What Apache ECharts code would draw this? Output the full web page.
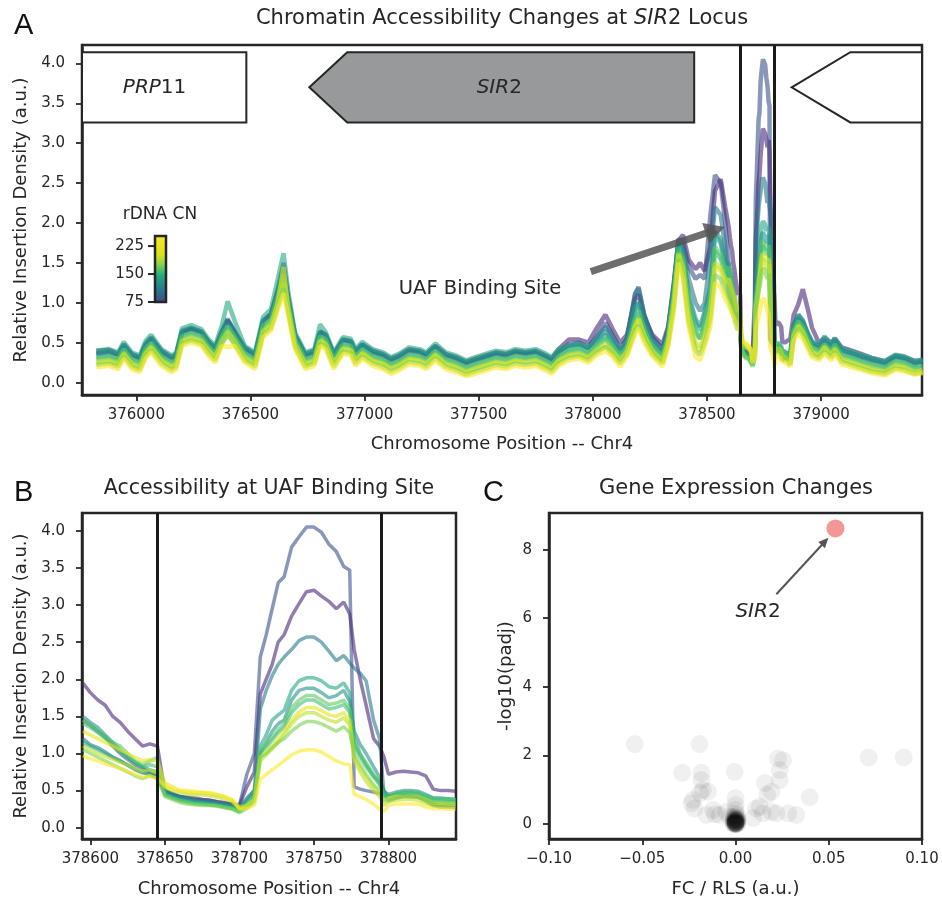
<!DOCTYPE html>
<html>
<head>
<meta charset="utf-8">
<title>SIR2 locus</title>
<script src="https://cdn.jsdelivr.net/npm/echarts@6/dist/echarts.min.js"></script>
<style>
html, body { margin: 0; padding: 0; background: #fff; }
#main { width: 942px; height: 901px; }
</style>
</head>
<body>
<div id="main"></div>
<script>
// positions on Chr4 (bp)
var posLeft = [375825, 375880, 375920, 375945, 375980, 376015, 376040, 376065, 376110, 376155,
    376175, 376200, 376240, 376285, 376315, 376345, 376375, 376400, 376430, 376475,
    376520, 376555, 376590, 376620, 376645, 376665, 376695, 376740, 376780, 376805,
    376830, 376865, 376905, 376940, 376960, 376990, 377035, 377080, 377115, 377150,
    377195, 377240, 377270, 377310, 377355, 377400, 377445, 377485, 377530, 377575,
    377620, 377660, 377705, 377750, 377795, 377820, 377850, 377895, 377940, 377980,
    378010, 378055, 378085, 378120, 378150, 378185, 378200, 378225, 378260, 378305,
    378330, 378355, 378375, 378395, 378420, 378450, 378470, 378490, 378515, 378535,
    378560, 378580];
var posSite = [378595, 378600, 378605, 378610, 378615, 378620, 378625, 378630, 378635, 378640,
    378645, 378650, 378655, 378660, 378665, 378670, 378675, 378680, 378685, 378690,
    378695, 378700, 378705, 378710, 378714, 378718, 378722, 378726, 378730, 378735,
    378740, 378745, 378750, 378755, 378760, 378765, 378770, 378774, 378777, 378781,
    378785, 378790, 378794, 378797, 378800, 378805, 378810, 378815, 378820, 378825,
    378830, 378835, 378840, 378845];
var posRight = [378865, 378880, 378900, 378920, 378940, 378960, 378990, 379015, 379045, 379060,
    379090, 379135, 379175, 379220, 379280, 379325, 379365, 379410, 379445];

var uafBounds = [378645, 378795];

// relative insertion density, one row per strain (low -> high rDNA CN roughly)
var leftDens = [
    [0.36,0.38,0.35,0.46,0.34,0.30,0.47,0.55,0.38,0.30,0.33,0.63,0.67,0.63,0.51,0.42,0.63,0.78,0.63,0.42,0.34,0.77,0.86,1.18,1.50,1.08,0.59,0.34,0.37,0.62,0.59,0.34,0.53,0.51,0.38,0.47,0.38,0.34,0.28,0.32,0.40,0.38,0.34,0.45,0.34,0.30,0.24,0.28,0.32,0.36,0.34,0.38,0.36,0.38,0.32,0.28,0.38,0.48,0.50,0.44,
     0.55,0.75,0.60,0.42,0.55,1.10,1.20,0.85,0.58,0.42,0.68,1.25,1.80,1.75,1.45,1.30,1.35,1.30,2.10,2.60,2.50,2.00],
    [0.40,0.41,0.36,0.48,0.36,0.32,0.48,0.56,0.40,0.32,0.36,0.64,0.68,0.64,0.52,0.44,0.64,0.78,0.64,0.44,0.36,0.76,0.86,1.14,1.35,1.06,0.60,0.36,0.40,0.64,0.60,0.36,0.54,0.52,0.40,0.48,0.40,0.36,0.30,0.34,0.42,0.40,0.36,0.46,0.36,0.32,0.26,0.30,0.34,0.38,0.36,0.40,0.38,0.40,0.34,0.30,0.42,0.54,0.54,0.50,
     0.65,0.85,0.68,0.50,0.60,1.05,1.10,0.82,0.60,0.48,0.70,1.20,1.78,1.85,1.54,1.42,1.50,1.40,1.70,2.40,2.55,2.20],
    [0.37,0.40,0.35,0.48,0.35,0.31,0.49,0.57,0.39,0.31,0.35,0.65,0.69,0.64,0.52,0.43,0.65,0.80,0.65,0.43,0.35,0.78,0.86,1.15,1.45,1.07,0.60,0.35,0.39,0.64,0.60,0.35,0.54,0.52,0.39,0.48,0.39,0.35,0.29,0.33,0.41,0.39,0.35,0.46,0.35,0.31,0.25,0.29,0.33,0.37,0.35,0.39,0.37,0.39,0.33,0.29,0.39,0.46,0.48,0.43,
     0.55,0.70,0.58,0.42,0.56,1.12,1.18,0.85,0.56,0.40,0.66,1.25,1.75,1.70,1.30,1.00,0.90,1.00,1.60,2.20,2.10,1.70],
    [0.40,0.42,0.38,0.51,0.38,0.34,0.52,0.60,0.42,0.34,0.38,0.68,0.72,0.67,0.55,0.46,0.72,1.02,0.78,0.46,0.38,0.82,0.92,1.30,1.62,1.15,0.63,0.38,0.42,0.73,0.63,0.38,0.57,0.55,0.42,0.51,0.42,0.38,0.32,0.36,0.44,0.42,0.38,0.49,0.38,0.34,0.28,0.32,0.36,0.40,0.38,0.42,0.40,0.42,0.36,0.32,0.42,0.47,0.49,0.44,
     0.50,0.60,0.52,0.38,0.50,0.95,1.00,0.75,0.50,0.36,0.62,1.20,1.72,1.60,1.05,0.75,0.65,0.85,1.15,1.85,1.75,1.45],
    [0.34,0.36,0.32,0.45,0.32,0.28,0.45,0.53,0.36,0.28,0.32,0.61,0.65,0.61,0.49,0.40,0.61,0.74,0.61,0.40,0.32,0.74,0.82,1.12,1.42,1.03,0.57,0.32,0.36,0.61,0.57,0.32,0.51,0.49,0.36,0.45,0.36,0.32,0.26,0.30,0.38,0.36,0.32,0.43,0.32,0.28,0.22,0.26,0.30,0.34,0.32,0.36,0.34,0.36,0.30,0.26,0.36,0.43,0.45,0.40,
     0.50,0.65,0.52,0.37,0.50,0.90,1.00,0.74,0.50,0.36,0.62,1.18,1.80,1.62,1.10,0.80,0.70,0.90,1.20,1.90,1.80,1.50],
    [0.31,0.33,0.29,0.42,0.29,0.25,0.42,0.50,0.33,0.25,0.29,0.58,0.62,0.58,0.46,0.37,0.58,0.71,0.58,0.37,0.29,0.71,0.79,1.08,1.35,1.00,0.54,0.29,0.33,0.58,0.54,0.29,0.48,0.46,0.33,0.42,0.33,0.29,0.23,0.27,0.35,0.33,0.29,0.40,0.29,0.25,0.19,0.23,0.27,0.31,0.29,0.33,0.31,0.33,0.27,0.23,0.33,0.40,0.42,0.37,
     0.45,0.55,0.46,0.33,0.45,0.80,0.90,0.66,0.45,0.33,0.58,1.10,1.65,1.55,1.00,0.65,0.55,0.75,1.05,1.70,1.60,1.40],
    [0.29,0.31,0.27,0.40,0.27,0.23,0.40,0.48,0.31,0.23,0.27,0.56,0.60,0.56,0.44,0.35,0.56,0.68,0.56,0.35,0.27,0.68,0.76,1.04,1.30,0.97,0.52,0.27,0.31,0.56,0.52,0.27,0.46,0.44,0.31,0.40,0.31,0.27,0.21,0.25,0.33,0.31,0.27,0.38,0.27,0.23,0.17,0.21,0.25,0.29,0.27,0.31,0.29,0.31,0.25,0.21,0.31,0.38,0.40,0.35,
     0.43,0.55,0.44,0.31,0.43,0.80,0.88,0.64,0.43,0.31,0.56,1.08,1.70,1.50,0.95,0.62,0.55,0.72,1.00,1.65,1.55,1.35],
    [0.24,0.26,0.22,0.35,0.22,0.18,0.35,0.43,0.27,0.19,0.22,0.50,0.54,0.51,0.40,0.30,0.50,0.60,0.48,0.30,0.22,0.62,0.70,1.00,1.45,0.92,0.47,0.22,0.26,0.52,0.47,0.23,0.42,0.40,0.27,0.36,0.27,0.23,0.17,0.21,0.29,0.27,0.23,0.34,0.23,0.19,0.13,0.17,0.21,0.25,0.23,0.27,0.25,0.27,0.21,0.17,0.27,0.33,0.35,0.30,
     0.38,0.45,0.38,0.26,0.38,0.70,0.80,0.58,0.38,0.26,0.50,1.00,1.60,1.40,0.80,0.45,0.40,0.55,0.85,1.45,1.40,1.25],
    [0.26,0.28,0.24,0.37,0.24,0.20,0.37,0.45,0.28,0.20,0.24,0.53,0.57,0.53,0.41,0.32,0.53,0.64,0.53,0.32,0.24,0.65,0.73,1.00,1.25,0.94,0.49,0.24,0.28,0.53,0.49,0.24,0.43,0.41,0.28,0.37,0.28,0.24,0.18,0.22,0.30,0.28,0.24,0.35,0.24,0.20,0.14,0.18,0.22,0.26,0.24,0.28,0.26,0.28,0.22,0.18,0.28,0.35,0.37,0.32,
     0.40,0.50,0.40,0.28,0.40,0.72,0.80,0.60,0.40,0.28,0.52,1.02,1.62,1.45,0.85,0.50,0.45,0.60,0.90,1.50,1.45,1.30],
    [0.22,0.24,0.20,0.33,0.20,0.16,0.33,0.41,0.24,0.16,0.20,0.49,0.53,0.49,0.37,0.28,0.49,0.60,0.49,0.28,0.20,0.60,0.68,0.95,1.18,0.88,0.45,0.20,0.24,0.49,0.45,0.20,0.39,0.37,0.24,0.33,0.24,0.20,0.14,0.18,0.26,0.24,0.20,0.31,0.20,0.16,0.10,0.14,0.18,0.22,0.20,0.24,0.22,0.24,0.18,0.14,0.24,0.31,0.33,0.28,
     0.36,0.45,0.36,0.24,0.36,0.65,0.72,0.55,0.36,0.24,0.48,0.95,1.55,1.35,0.75,0.40,0.35,0.50,0.80,1.35,1.30,1.15],
    [0.19,0.21,0.17,0.30,0.17,0.13,0.30,0.38,0.21,0.13,0.17,0.46,0.50,0.46,0.34,0.25,0.46,0.45,0.46,0.25,0.17,0.57,0.65,0.92,1.12,0.85,0.42,0.17,0.21,0.46,0.42,0.17,0.36,0.34,0.21,0.30,0.21,0.17,0.11,0.15,0.23,0.21,0.17,0.28,0.17,0.13,0.08,0.11,0.15,0.19,0.17,0.21,0.19,0.21,0.15,0.11,0.21,0.28,0.30,0.25,
     0.33,0.40,0.33,0.20,0.33,0.60,0.68,0.50,0.33,0.20,0.45,0.90,1.50,1.30,0.70,0.32,0.28,0.45,0.70,1.25,1.20,1.05]
];
var siteDens = [
    [1.45,1.38,1.30,1.22,1.10,1.00,0.92,0.85,0.80,0.74,0.70, 0.50,0.46,0.42,0.40,0.38,0.38,0.37,0.35,0.33,0.32,0.30, 0.72,1.00,2.30,2.60,2.95,3.30,3.38,3.78,3.92,4.05,4.05,3.98,3.82,3.72,3.52,3.47, 0.55,0.52,0.50,0.48,0.46, 0.44,0.42,0.42,0.43,0.42,0.42,0.38,0.32,0.30,0.30,0.30],
    [1.95,1.82,1.72,1.65,1.50,1.42,1.30,1.20,1.10,1.13,1.10, 0.48,0.45,0.42,0.41,0.40,0.38,0.37,0.35,0.34,0.32,0.30, 0.55,0.75,1.80,2.00,2.20,2.50,2.60,2.85,3.02,3.18,3.20,3.12,3.05,2.95,3.04,2.88, 2.40,2.00,1.65,1.20,1.10, 0.95,0.72,0.75,0.76,0.75,0.74,0.70,0.52,0.50,0.50,0.49],
    [1.20,1.12,1.08,1.02,0.95,0.90,0.84,0.78,0.74,0.72,0.68, 0.50,0.46,0.42,0.40,0.37,0.36,0.35,0.34,0.32,0.30,0.27, 0.40,0.50,1.60,1.85,2.05,2.20,2.30,2.40,2.52,2.57,2.57,2.50,2.38,2.25,2.32,2.22, 2.15,2.08,1.98,1.45,1.20, 0.45,0.38,0.40,0.42,0.42,0.41,0.36,0.30,0.28,0.28,0.27],
    [1.15,1.10,1.05,1.00,0.95,0.90,0.85,0.80,0.75,0.72,0.68, 0.45,0.42,0.38,0.36,0.35,0.34,0.33,0.32,0.30,0.28,0.25, 0.35,0.45,1.10,1.25,1.45,1.52,1.58,1.85,1.98,2.02,2.02,1.98,1.90,1.88,1.95,1.82, 1.20,1.00,0.85,0.70,0.62, 0.50,0.42,0.45,0.46,0.46,0.45,0.40,0.36,0.36,0.35,0.35],
    [1.50,1.42,1.35,1.25,1.15,1.05,0.95,0.88,0.82,0.78,0.75, 0.48,0.44,0.40,0.38,0.36,0.35,0.34,0.33,0.31,0.29,0.26, 0.38,0.50,1.00,1.15,1.30,1.40,1.45,1.72,1.85,1.88,1.88,1.82,1.75,1.78,1.85,1.70, 1.30,1.12,1.00,0.82,0.68, 0.48,0.45,0.48,0.50,0.50,0.49,0.45,0.40,0.40,0.39,0.38],
    [1.45,1.38,1.30,1.22,1.15,1.10,1.00,0.90,0.85,0.90,0.95, 0.45,0.40,0.36,0.34,0.32,0.32,0.31,0.30,0.28,0.26,0.22, 0.30,0.40,1.05,1.12,1.22,1.32,1.40,1.62,1.72,1.78,1.78,1.72,1.66,1.68,1.72,1.60, 1.15,0.98,0.88,0.72,0.60, 0.42,0.40,0.45,0.47,0.47,0.46,0.42,0.38,0.38,0.37,0.37],
    [1.40,1.35,1.28,1.20,1.12,1.02,0.95,0.88,0.82,0.85,0.82, 0.44,0.40,0.37,0.35,0.33,0.32,0.31,0.30,0.28,0.26,0.22, 0.30,0.42,1.00,1.08,1.18,1.28,1.35,1.55,1.66,1.72,1.72,1.66,1.60,1.62,1.66,1.55, 1.10,0.95,0.82,0.68,0.58, 0.45,0.42,0.46,0.48,0.48,0.47,0.43,0.40,0.39,0.39,0.38],
    [1.30,1.25,1.20,1.15,1.10,1.05,1.00,0.95,0.90,0.92,0.90, 0.60,0.55,0.50,0.48,0.47,0.47,0.46,0.44,0.42,0.38,0.28, 0.30,0.38,0.95,1.02,1.10,1.20,1.30,1.45,1.56,1.62,1.62,1.58,1.52,1.50,1.55,1.45, 0.95,0.80,0.68,0.55,0.45, 0.35,0.40,0.42,0.42,0.42,0.42,0.38,0.33,0.33,0.32,0.32],
    [1.10,1.05,1.00,0.96,0.92,0.88,0.85,0.80,0.76,0.78,0.74, 0.55,0.50,0.47,0.45,0.44,0.44,0.43,0.41,0.39,0.35,0.26, 0.28,0.36,0.90,0.98,1.06,1.15,1.25,1.40,1.50,1.55,1.55,1.50,1.45,1.42,1.48,1.38, 0.90,0.75,0.62,0.50,0.42, 0.30,0.35,0.37,0.38,0.38,0.37,0.33,0.30,0.30,0.29,0.29],
    [1.05,1.00,0.95,0.90,0.85,0.80,0.75,0.70,0.66,0.70,0.66, 0.42,0.38,0.34,0.32,0.31,0.30,0.30,0.29,0.27,0.25,0.20, 0.26,0.34,0.95,1.00,1.08,1.15,1.20,1.30,1.38,1.43,1.43,1.40,1.35,1.30,1.36,1.28, 1.00,0.85,0.72,0.58,0.50, 0.38,0.36,0.40,0.42,0.42,0.41,0.37,0.34,0.34,0.33,0.33],
    [0.97,0.93,0.90,0.86,0.83,0.80,0.76,0.72,0.68,0.70,0.66, 0.56,0.52,0.50,0.50,0.49,0.48,0.47,0.45,0.42,0.38,0.25, 0.26,0.30,0.65,0.72,0.78,0.84,0.90,0.98,1.03,1.05,1.05,1.02,0.96,0.90,0.86,0.85, 0.45,0.42,0.38,0.32,0.25, 0.22,0.30,0.32,0.32,0.32,0.32,0.28,0.26,0.26,0.25,0.25]
];
var rightDens = [
    [0.36,0.72,0.85,0.78,0.62,0.50,0.45,0.53,0.45,0.53,0.40,0.36,0.32,0.28,0.24,0.32,0.30,0.24,0.26],
    [0.55,0.85,0.98,1.17,0.94,0.69,0.50,0.56,0.50,0.55,0.44,0.40,0.36,0.31,0.27,0.34,0.32,0.27,0.28],
    [0.34,0.70,0.82,0.76,0.62,0.50,0.46,0.54,0.46,0.54,0.41,0.37,0.33,0.29,0.25,0.33,0.31,0.25,0.27],
    [0.38,0.72,0.85,0.76,0.64,0.52,0.48,0.58,0.48,0.56,0.43,0.39,0.35,0.31,0.27,0.35,0.33,0.27,0.29],
    [0.33,0.68,0.80,0.72,0.59,0.47,0.43,0.51,0.43,0.51,0.38,0.34,0.30,0.26,0.22,0.30,0.28,0.22,0.24],
    [0.30,0.65,0.77,0.69,0.56,0.44,0.40,0.48,0.40,0.48,0.35,0.31,0.27,0.23,0.19,0.27,0.25,0.19,0.21],
    [0.28,0.63,0.75,0.67,0.54,0.42,0.38,0.46,0.38,0.46,0.33,0.29,0.25,0.21,0.17,0.25,0.23,0.17,0.19],
    [0.24,0.58,0.70,0.62,0.49,0.37,0.33,0.45,0.33,0.41,0.28,0.24,0.20,0.16,0.12,0.20,0.18,0.12,0.14],
    [0.25,0.60,0.72,0.64,0.51,0.39,0.35,0.43,0.35,0.43,0.30,0.26,0.22,0.18,0.14,0.22,0.20,0.14,0.16],
    [0.22,0.56,0.68,0.60,0.47,0.35,0.31,0.39,0.31,0.39,0.26,0.22,0.18,0.14,0.11,0.18,0.16,0.11,0.13],
    [0.20,0.52,0.62,0.55,0.43,0.32,0.28,0.36,0.28,0.36,0.23,0.19,0.16,0.12,0.09,0.16,0.14,0.10,0.12]
];
var lineColors = ['#3b528b', '#482878', '#2a788e', '#22a884', '#21918c', '#5ec962',
    '#3fbc73', '#e5e419', '#bddf26', '#7ad151', '#fde725'];

// genes drawn in panel A
var geneBody = [[375762, 376482], [376924, 378444], [379128, 379442]];
var geneTip = [null, 376758, 378871];
var geneBand = [3.26, 4.14];
var geneLabelX = [376080, 377590, null];
var geneFill = ['#ffffff', '#98999b', '#ffffff'];

// panel C : fold change per RLS vs -log10(padj)
var fcVals = [-0.054, -0.0193, -0.0286, -0.0183, -0.0183, -0.0004, -0.0175, -0.0147, -0.0229, -0.0235,
    -0.022, -0.019, -0.012, -0.0085, -0.0156, -0.011, -0.005, -0.003, 0, 0,
    0, 0.0094, 0.013, 0.0157, 0.0193, 0.0193, 0.0147, 0.0237, 0.0255, 0.0228,
    0.0237, 0.0398, 0.0282, 0.0326, 0.0219, 0.0714, 0.0902, 0.017, 0.011,
    0, 0.001, -0.001, 0, 0.001, -0.001, 0, 0.001, 0, -0.001, 0, 0.001, 0, 0, 0.0005, -0.0005, 0, 0,
    0.0008, -0.0008, 0, 0, 0, 0, 0, 0.001, -0.001, 0, 0, 0, 0.0005, -0.0005, 0, 0, 0.001, -0.001];
var padjVals = [2.33, 2.33, 1.49, 1.49, 1.28, 1.52, 0.99, 0.94, 0.70, 0.60,
    0.45, 0.90, 0.41, 0.26, 0.26, 0.28, 0.35, 0.20, 0.75, 0.55,
    0.41, 0.17, 0.50, 1.19, 0.94, 0.35, 0.31, 1.57, 1.86, 1.91,
    1.28, 0.78, 0.31, 0.26, 0.31, 1.94, 1.94, 0.85, 0.45,
    0, 0.02, 0.03, 0.05, 0.08, 0.1, 0.12, 0.15, 0.18, 0.2, 0.22, 0.25, 0, 0.01, 0.04, 0.06, 0.09, 0.11,
    0.13, 0.16, 0.3, 0.02, 0.03, 0.07, 0, 0, 0, 0.01, 0.05, 0.14, 0.08, 0.1, 0.04, 0.06, 0.12, 0.02];
var sir2Point = [0.0536, 8.62];

// ticks
var ticksAx = [376000, 376500, 377000, 377500, 378000, 378500, 379000];
var ticksAy = [0, 0.5, 1, 1.5, 2, 2.5, 3, 3.5, 4];
var ticksBx = [378600, 378650, 378700, 378750, 378800];
var ticksCx = [-0.1, -0.05, 0, 0.05, 0.1];
var ticksCy = [0, 2, 4, 6, 8];
var cbTicks = [75, 150, 225];
var cbRange = [75, 252];

// annotation anchors
var uafArrow = [[377991, 1.39], [378536, 1.91]];
var sirArrow = [[0.0219, 6.70], [0.0480, 8.24]];

var ink = '#262626';
var font = 'DejaVu Sans';

function zip(xs, ys) {
    var out = [];
    for (var i = 0; i < xs.length; i++) out.push([xs[i], ys[i]]);
    return out;
}
function fmtInt(v) { return String(Math.round(v)); }
function fmt1(v) { return v.toFixed(1); }
function fmtC(v) { return v < 0 ? '\u2212' + Math.abs(v).toFixed(2) : v.toFixed(2); }
function fmtPlain(v) { return String(v); }

function makeAxis(grid, min, max, ticks, fmt, name, gap, margin, vertical) {
    return {
        type: 'value', gridIndex: grid, min: min, max: max,
        splitLine: { show: false },
        axisLine: { show: true, onZero: false, lineStyle: { color: ink, width: 2.5 } },
        axisTick: { show: true, length: 6, customValues: ticks, lineStyle: { color: ink, width: 1.8 } },
        axisLabel: { customValues: ticks, formatter: fmt, color: ink, fontSize: 15, fontFamily: font, margin: margin },
        name: name, nameLocation: 'middle', nameGap: gap, nameRotate: vertical ? 90 : 0,
        nameTextStyle: { color: ink, fontSize: 18, fontFamily: font }
    };
}

var chart = echarts.init(document.getElementById('main'), null, { renderer: 'canvas' });

var posA = posLeft.concat(posSite, posRight);
var series = [];

// gene models
series.push({
    type: 'custom', xAxisIndex: 0, yAxisIndex: 0, silent: true, z: 3,
    data: geneBody.map(function (b, i) { return [b[0], b[1], i]; }),
    renderItem: function (params, api) {
        var i = params.dataIndex;
        var x0 = api.value(0), x1 = api.value(1);
        var yl = geneBand[0], yh = geneBand[1], ym = (yl + yh) / 2;
        var pts = geneTip[i] == null ?
            [[x0, yh], [x1, yh], [x1, yl], [x0, yl]] :
            [[geneTip[i], ym], [x0, yh], [x1, yh], [x1, yl], [x0, yl]];
        pts = pts.map(function (p) { return api.coord(p); });
        var kids = [{ type: 'polygon', shape: { points: pts }, style: { fill: geneFill[i], stroke: ink, lineWidth: 2 } }];
        if (geneLabelX[i] != null) {
            var c = api.coord([geneLabelX[i], ym]);
            var nm = i === 0 ? '{i|PRP}{n|11}' : '{i|SIR}{n|2}';
            kids.push({
                type: 'text', x: c[0], y: c[1],
                style: {
                    text: nm, align: 'center', verticalAlign: 'middle',
                    rich: {
                        i: { fontSize: 20, fontStyle: 'italic', fontFamily: font, fill: ink },
                        n: { fontSize: 20, fontFamily: font, fill: ink }
                    }
                }
            });
        }
        return { type: 'group', children: kids };
    }
});

// panel A lines
for (var i = 0; i < lineColors.length; i++) {
    series.push({
        type: 'line', xAxisIndex: 0, yAxisIndex: 0, silent: true,
        symbol: 'none', showSymbol: false,
        data: zip(posA, leftDens[i].concat(siteDens[i], rightDens[i])),
        lineStyle: { color: lineColors[i], width: 4.5, opacity: 0.6 }
    });
}
series[series.length - 1].markLine = {
    silent: true, symbol: 'none', animation: false,
    label: { show: false },
    lineStyle: { color: '#1a1a1a', width: 3, type: 'solid', opacity: 1 },
    data: [
        { xAxis: uafBounds[0] }, { xAxis: uafBounds[1] },
        [{ coord: uafArrow[0], symbol: 'none', lineStyle: { color: '#555555', width: 7, opacity: 0.85, type: 'solid' } },
         { coord: uafArrow[1], symbol: 'triangle', symbolSize: [22, 20] }]
    ]
};

// panel B lines
for (var j = 0; j < lineColors.length; j++) {
    series.push({
        type: 'line', xAxisIndex: 1, yAxisIndex: 1, silent: true,
        symbol: 'none', showSymbol: false,
        data: zip(posSite, siteDens[j]),
        lineStyle: { color: lineColors[j], width: 3.5, opacity: 0.6 }
    });
}
series[series.length - 1].markLine = {
    silent: true, symbol: 'none', animation: false,
    label: { show: false },
    lineStyle: { color: '#1a1a1a', width: 3, type: 'solid', opacity: 1 },
    data: [{ xAxis: uafBounds[0] }, { xAxis: uafBounds[1] }]
};

// panel C
series.push({
    type: 'scatter', xAxisIndex: 2, yAxisIndex: 2, silent: true,
    data: zip(fcVals, padjVals), symbolSize: 18,
    itemStyle: { color: '#000000', opacity: 0.06 }
});
series.push({
    type: 'scatter', xAxisIndex: 2, yAxisIndex: 2, silent: true,
    data: [sir2Point], symbolSize: 18,
    itemStyle: { color: '#f07c7c', opacity: 0.8 },
    markLine: {
        silent: true, animation: false, label: { show: false },
        lineStyle: { color: '#555555', width: 2, type: 'solid' },
        data: [[{ coord: sirArrow[0], symbol: 'none' }, { coord: sirArrow[1], symbol: 'triangle', symbolSize: [9, 10] }]]
    }
});

// colorbar for rDNA copy number
function cbY(v) { return 302 - (v - cbRange[0]) * 66 / (cbRange[1] - cbRange[0]); }
var graphics = [
    { type: 'text', x: 14, y: 26, style: { text: 'A', fontSize: 29, fontFamily: 'Liberation Sans', fill: '#111', verticalAlign: 'middle' } },
    { type: 'text', x: 14, y: 493, style: { text: 'B', fontSize: 29, fontFamily: 'Liberation Sans', fill: '#111', verticalAlign: 'middle' } },
    { type: 'text', x: 483, y: 493, style: { text: 'C', fontSize: 29, fontFamily: 'Liberation Sans', fill: '#111', verticalAlign: 'middle' } },
    { type: 'text', x: 502, y: 19, style: {
        text: '{n|Chromatin Accessibility Changes at }{i|SIR}{n|2 Locus}', align: 'center', verticalAlign: 'middle',
        rich: { n: { fontSize: 21, fontFamily: font, fill: ink }, i: { fontSize: 21, fontFamily: font, fontStyle: 'italic', fill: ink } } } },
    { type: 'text', x: 269, y: 489, style: { text: 'Accessibility at UAF Binding Site', align: 'center', verticalAlign: 'middle', fontSize: 20.5, fontFamily: font, fill: ink } },
    { type: 'text', x: 736, y: 489, style: { text: 'Gene Expression Changes', align: 'center', verticalAlign: 'middle', fontSize: 21, fontFamily: font, fill: ink } },
    { type: 'text', x: 160, y: 215, style: { text: 'rDNA CN', align: 'center', verticalAlign: 'middle', fontSize: 17, fontFamily: font, fill: ink } },
    { type: 'rect', shape: { x: 155, y: 236, width: 11, height: 66 }, style: {
        fill: new echarts.graphic.LinearGradient(0, 1, 0, 0, [
            { offset: 0, color: '#3e4a89' }, { offset: 0.2, color: '#2a788e' }, { offset: 0.4, color: '#22a884' },
            { offset: 0.55, color: '#7ad151' }, { offset: 0.7, color: '#d8e219' }, { offset: 1, color: '#fde725' }]),
        stroke: ink, lineWidth: 2.5 } },
    { type: 'text', x: 480, y: 289, style: { text: 'UAF Binding Site', align: 'center', verticalAlign: 'middle', fontSize: 19.5, fontFamily: font, fill: ink } },
    { type: 'text', x: 758, y: 612, style: {
        text: '{i|SIR}{n|2}', align: 'center', verticalAlign: 'middle',
        rich: { n: { fontSize: 20, fontFamily: font, fill: ink }, i: { fontSize: 20, fontFamily: font, fontStyle: 'italic', fill: ink } } } }
];
cbTicks.forEach(function (t) {
    var y = cbY(t);
    graphics.push({ type: 'line', shape: { x1: 148, y1: y, x2: 155, y2: y }, style: { stroke: ink, lineWidth: 2 } });
    graphics.push({ type: 'text', x: 144, y: y, style: { text: String(t), align: 'right', verticalAlign: 'middle', fontSize: 15, fontFamily: font, fill: ink } });
});

chart.setOption({
    animation: false,
    backgroundColor: '#ffffff',
    grid: [
        { left: 82, top: 45, width: 840, height: 350, show: true, borderColor: ink, borderWidth: 2.5 },
        { left: 82, top: 513, width: 374, height: 326, show: true, borderColor: ink, borderWidth: 2.5 },
        { left: 549, top: 513, width: 373, height: 326, show: true, borderColor: ink, borderWidth: 2.5 }
    ],
    xAxis: [
        makeAxis(0, 375762, 379442, ticksAx, fmtInt, 'Chromosome Position -- Chr4', 40, 13, false),
        makeAxis(1, 378594.4, 378845.3, ticksBx, fmtInt, 'Chromosome Position -- Chr4', 41, 13, false),
        makeAxis(2, -0.1, 0.1, ticksCx, fmtC, 'FC / RLS (a.u.)', 41, 13, false)
    ],
    yAxis: [
        makeAxis(0, -0.155, 4.23, ticksAy, fmt1, 'Relative Insertion Density (a.u.)', 52, 17, true),
        makeAxis(1, -0.152, 4.24, ticksAy, fmt1, 'Relative Insertion Density (a.u.)', 52, 17, true),
        makeAxis(2, -0.44, 9.07, ticksCy, fmtPlain, '-log10(padj)', 34, 17, true)
    ],
    graphic: graphics,
    series: series
});
</script>
</body>
</html>
